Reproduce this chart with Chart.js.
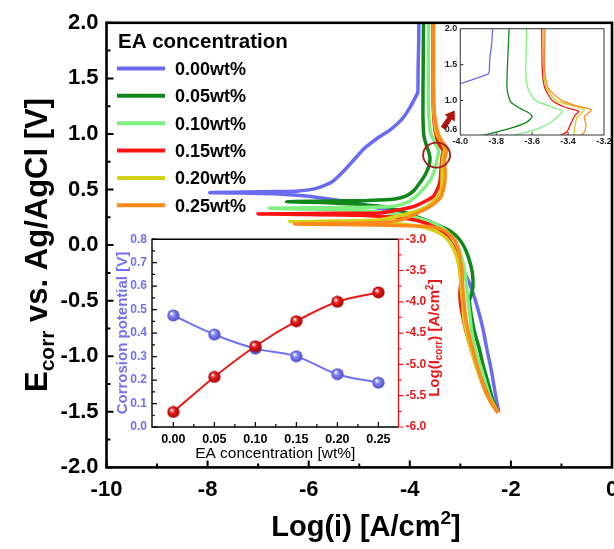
<!DOCTYPE html>
<html lang="en">
<head>
<meta charset="UTF-8">
<title>Tafel curves - EA concentration</title>
<style>
  html, body { margin: 0; padding: 0; background: #fff; overflow: hidden; }
  body { width: 614px; height: 549px; position: relative; }
  canvas { position: absolute; }
  #main { left: 0; top: 0; }
  #corr { left: 90px; top: 225px; }
  #zoom { left: 430px; top: 20px; }
</style>
<script src="https://cdn.jsdelivr.net/npm/chart.js"></script>
</head>
<body>
<canvas id="main" width="640" height="549"></canvas>
<canvas id="corr" width="370" height="240"></canvas>
<canvas id="zoom" width="200" height="135"></canvas>
<script>
// ---- data ----
const concLabels = ['0.00wt%', '0.05wt%', '0.10wt%', '0.15wt%', '0.20wt%', '0.25wt%'];

// each curve: cathodic branch from E=-1.5 up to Ecorr, then anodic branch up to 2.0
const logI000 = [-2.24, -2.30, -2.39, -2.47, -2.55, -2.65, -2.75, -2.85, -2.95, -3.05, -3.15, -3.30, -3.45, -3.60, -3.85, -4.20, -4.60, -4.87, -5.20, -5.53, -6.00, -6.60, -7.30, -7.96,
                 -7.30, -6.60, -6.20, -5.85, -5.55, -5.30, -5.10, -4.90, -4.60, -4.38, -4.15, -4.00, -3.85, -3.84, -3.835, -3.825, -3.82];
const e000 =    [-1.50, -1.36, -1.12, -0.95, -0.76, -0.58, -0.43, -0.31, -0.22, -0.10, -0.01, 0.09, 0.16, 0.21, 0.25, 0.29, 0.33, 0.36, 0.39, 0.41, 0.44, 0.46, 0.468, 0.472,
                 0.478, 0.482, 0.487, 0.51, 0.565, 0.67, 0.77, 0.87, 0.975, 1.04, 1.135, 1.236, 1.365, 1.385, 1.60, 1.80, 2.00];

const logI005 = [-2.26, -2.36, -2.45, -2.55, -2.62, -2.72, -2.78, -2.82, -2.78, -2.75, -2.76, -2.80, -2.88, -2.97, -3.10, -3.25, -3.42, -3.60, -3.87, -4.20, -4.53, -5.00, -5.52, -6.00, -6.44,
                 -6.00, -5.50, -4.90, -4.60, -4.30, -4.08, -3.92, -3.80, -3.70, -3.63, -3.60, -3.62, -3.667, -3.72, -3.74, -3.735, -3.728];
const e005 =    [-1.50, -1.39, -1.24, -1.08, -0.94, -0.78, -0.64, -0.50, -0.44, -0.37, -0.26, -0.17, -0.06, 0.02, 0.09, 0.14, 0.175, 0.21, 0.256, 0.31, 0.346, 0.365, 0.378, 0.386, 0.39,
                 0.394, 0.397, 0.40, 0.405, 0.415, 0.44, 0.49, 0.56, 0.63, 0.70, 0.775, 0.83, 0.89, 0.98, 1.17, 1.63, 2.00];

const logI010 = [-2.29, -2.42, -2.58, -2.70, -2.78, -2.82, -2.85, -2.88, -2.92, -2.98, -3.05, -3.18, -3.34, -3.55, -3.85, -4.30, -5.00, -6.00, -6.77,
                 -6.00, -5.20, -4.60, -4.30, -4.05, -3.88, -3.72, -3.63, -3.565, -3.50, -3.47, -3.43, -3.49, -3.584, -3.624, -3.635, -3.63];
const e010 =    [-1.48, -1.36, -1.12, -0.95, -0.76, -0.60, -0.49, -0.35, -0.22, -0.10, -0.01, 0.08, 0.15, 0.20, 0.245, 0.285, 0.31, 0.325, 0.331,
                 0.335, 0.338, 0.342, 0.352, 0.385, 0.436, 0.51, 0.56, 0.61, 0.69, 0.75, 0.85, 0.91, 1.005, 1.17, 1.40, 2.00];

const logI015 = [-2.26, -2.32, -2.45, -2.68, -2.88, -2.98, -3.01, -2.99, -3.01, -3.05, -3.15, -3.30, -3.50, -3.80, -4.30, -5.00, -6.00, -7.00,
                 -6.00, -5.00, -4.59, -3.94, -3.54, -3.41, -3.38, -3.36, -3.34, -3.42, -3.49, -3.529, -3.543, -3.547];
const e015 =    [-1.50, -1.45, -1.36, -1.09, -0.79, -0.58, -0.45, -0.31, -0.20, -0.10, 0.00, 0.09, 0.16, 0.215, 0.25, 0.268, 0.276, 0.28,
                 0.284, 0.287, 0.29, 0.345, 0.436, 0.556, 0.705, 0.80, 0.85, 0.91, 1.005, 1.17, 1.40, 2.00];

const logI020 = [-2.26, -2.35, -2.49, -2.75, -2.92, -2.95, -2.98, -3.00, -3.03, -3.10, -3.20, -3.35, -3.60, -4.00, -4.60, -5.50, -6.37,
                 -5.50, -4.60, -4.07, -3.67, -3.44, -3.37, -3.36, -3.35, -3.31, -3.38, -3.47, -3.52, -3.535, -3.538];
const e020 =    [-1.50, -1.43, -1.33, -1.00, -0.70, -0.55, -0.40, -0.30, -0.18, -0.07, 0.02, 0.09, 0.145, 0.18, 0.198, 0.205, 0.21,
                 0.216, 0.228, 0.28, 0.345, 0.436, 0.52, 0.66, 0.77, 0.87, 0.93, 1.005, 1.17, 1.40, 2.00];

const logI025 = [-2.26, -2.39, -2.52, -2.72, -2.88, -2.95, -2.98, -3.08, -3.20, -3.35, -3.60, -4.00, -5.00, -6.27,
                 -5.50, -4.60, -4.20, -3.94, -3.61, -3.45, -3.38, -3.31, -3.30, -3.31, -3.27, -3.36, -3.44, -3.51, -3.53, -3.53];
const e025 =    [-1.51, -1.42, -1.30, -1.00, -0.70, -0.40, -0.19, 0.016, 0.09, 0.14, 0.165, 0.175, 0.183, 0.19,
                 0.196, 0.203, 0.225, 0.27, 0.345, 0.40, 0.436, 0.556, 0.66, 0.77, 0.87, 0.93, 1.005, 1.17, 1.40, 2.00];

// lower-left inset
const eaConc = [0.00, 0.05, 0.10, 0.15, 0.20, 0.25];
const corrPotential = [0.475, 0.394, 0.334, 0.301, 0.225, 0.189];
const logIcorr = [-5.76, -5.20, -4.71, -4.31, -4.00, -3.85];

// tick values
const mainXTicks = [-10, -8, -6, -4, -2, 0];
const mainYTicks = [-2.0, -1.5, -1.0, -0.5, 0.0, 0.5, 1.0, 1.5, 2.0];
const zoomXTicks = [-4.0, -3.8, -3.6, -3.4, -3.2];
const zoomYTicks = [0.6, 1.0, 1.5, 2.0];
const corrXTicks = [0.00, 0.05, 0.10, 0.15, 0.20, 0.25];

// ---- styling ----
const FONT = 'Arial, "Liberation Sans", Helvetica, sans-serif';
Chart.defaults.font.family = FONT;
const curveColors = ['#6b6bf2', '#11861a', '#7ff07f', '#ff1414', '#d2d21a', '#ff8a1c'];
const BLUE = '#7272ee';
const RED = '#ea1a1a';

const curves = [[logI000, e000], [logI005, e005], [logI010, e010], [logI015, e015], [logI020, e020], [logI025, e025]];

function makeSets(width) {
    return curves.map(([xs, ys], i) => ({
        label: concLabels[i],
        data: xs.map((x, k) => ({ x: x, y: ys[k] })),
        showLine: true,
        borderColor: curveColors[i],
        backgroundColor: curveColors[i],
        borderWidth: width,
        pointRadius: 0,
        tension: 0.2,
        order: curves.length - i
    }));
}

function range(a, b, s) {
    const r = [];
    for (let v = a; v <= b + 1e-9; v += s) r.push(+v.toFixed(4));
    return r;
}

// short tick marks drawn along a chart area edge; len > 0 points inwards for left/bottom
function edgeTicks(ctx, chart, axisId, values, len, edge) {
    const s = chart.scales[axisId], a = chart.chartArea;
    ctx.beginPath();
    values.forEach(v => {
        const p = s.getPixelForValue(v);
        if (edge === 'left') { ctx.moveTo(a.left, p); ctx.lineTo(a.left + len, p); }
        if (edge === 'right') { ctx.moveTo(a.right, p); ctx.lineTo(a.right + len, p); }
        if (edge === 'bottom') { ctx.moveTo(p, a.bottom); ctx.lineTo(p, a.bottom - len); }
    });
    ctx.stroke();
}

// text made of pieces (for sub/superscripts), centered on cx, baseline at cy
function richText(ctx, parts, cx, cy, rot, color) {
    ctx.save();
    ctx.translate(cx, cy);
    ctx.rotate(rot);
    ctx.fillStyle = color;
    ctx.textAlign = 'left';
    ctx.textBaseline = 'alphabetic';
    let w = 0;
    parts.forEach(p => { ctx.font = p.font; w += ctx.measureText(p.t).width; });
    let x = -w / 2;
    parts.forEach(p => {
        ctx.font = p.font;
        ctx.fillText(p.t, x, p.dy || 0);
        x += ctx.measureText(p.t).width;
    });
    ctx.restore();
}

function ball(color, dark) {
    const c = document.createElement('canvas');
    c.width = 13; c.height = 13;
    const g = c.getContext('2d');
    const grad = g.createRadialGradient(4.6, 4.4, 0.4, 6.5, 6.5, 6.4);
    grad.addColorStop(0, '#ffffff');
    grad.addColorStop(0.35, color);
    grad.addColorStop(1, dark);
    g.fillStyle = grad;
    g.beginPath();
    g.arc(6.5, 6.5, 6.1, 0, Math.PI * 2);
    g.fill();
    return c;
}

// ---- main chart ----
const mainDecor = {
    id: 'mainDecor',
    afterDraw(chart) {
        const ctx = chart.ctx, a = chart.chartArea;
        const xs = chart.scales.x, ys = chart.scales.y;
        ctx.save();

        // highlight circle and arrow pointing to the zoomed inset
        ctx.strokeStyle = '#a51c1c';
        ctx.lineWidth = 1.8;
        ctx.beginPath();
        ctx.ellipse(xs.getPixelForValue(-3.47), ys.getPixelForValue(0.81), 13.5, 12.5, 0, 0, Math.PI * 2);
        ctx.stroke();

        const tx = xs.getPixelForValue(-3.344), ty = ys.getPixelForValue(1.051);
        const hx = xs.getPixelForValue(-3.112), hy = ys.getPixelForValue(1.21);
        const len = Math.hypot(hx - tx, hy - ty), ux = (hx - tx) / len, uy = (hy - ty) / len;
        const nx = -uy, ny = ux, bx = hx - ux * 9, by = hy - uy * 9;
        ctx.fillStyle = '#b0120f';
        ctx.beginPath();
        ctx.moveTo(tx + nx * 2.6, ty + ny * 2.6);
        ctx.lineTo(bx + nx * 2.6, by + ny * 2.6);
        ctx.lineTo(bx + nx * 6.2, by + ny * 6.2);
        ctx.lineTo(hx, hy);
        ctx.lineTo(bx - nx * 6.2, by - ny * 6.2);
        ctx.lineTo(bx - nx * 2.6, by - ny * 2.6);
        ctx.lineTo(tx - nx * 2.6, ty - ny * 2.6);
        ctx.closePath();
        ctx.fill();

        // frame and inward ticks
        ctx.strokeStyle = '#000';
        ctx.lineWidth = 2.6;
        ctx.strokeRect(a.left, a.top, a.right - a.left, a.bottom - a.top);
        ctx.lineWidth = 2;
        edgeTicks(ctx, chart, 'y', mainYTicks, 7, 'left');
        edgeTicks(ctx, chart, 'y', range(-1.75, 1.75, 0.5), 4, 'left');
        edgeTicks(ctx, chart, 'x', mainXTicks, 7, 'bottom');
        edgeTicks(ctx, chart, 'x', range(-9, -1, 2), 4, 'bottom');

        // axis titles
        richText(ctx, [
            { t: 'Log(i) [A/cm', font: `bold 29px ${FONT}` },
            { t: '2', font: `bold 19px ${FONT}`, dy: -12 },
            { t: ']', font: `bold 29px ${FONT}` }
        ], 366, 536, 0, '#000');
        richText(ctx, [
            { t: 'E', font: `bold 31px ${FONT}` },
            { t: 'corr', font: `bold 21px ${FONT}`, dy: 7 },
            { t: ' vs. Ag/AgCl [V]', font: `bold 31px ${FONT}` }
        ], 47, 245, -Math.PI / 2, '#000');

        // legend
        ctx.fillStyle = '#000';
        ctx.textAlign = 'left';
        ctx.textBaseline = 'middle';
        ctx.font = `bold 20.5px ${FONT}`;
        ctx.fillText('EA concentration', 118, 42);
        ctx.font = `bold 18px ${FONT}`;
        chart.data.datasets.forEach((ds, i) => {
            const y = 68.5 + i * 27.35;
            ctx.strokeStyle = ds.borderColor;
            ctx.lineWidth = 4;
            ctx.beginPath();
            ctx.moveTo(117, y);
            ctx.lineTo(165, y);
            ctx.stroke();
            ctx.fillText(ds.label, 175, y + 1.5);
        });
        ctx.restore();
    }
};

new Chart(document.getElementById('main'), {
    type: 'scatter',
    data: { datasets: makeSets(3.5) },
    options: {
        animation: false,
        responsive: false,
        events: [],
        layout: { padding: { top: 22.8, right: 28, left: 0, bottom: 0 } },
        plugins: { legend: { display: false }, tooltip: { enabled: false } },
        scales: {
            x: {
                min: -10, max: 0,
                afterBuildTicks: s => { s.ticks = mainXTicks.map(v => ({ value: v })); },
                ticks: { font: { size: 22, weight: 'bold' }, color: '#000', padding: 9, maxRotation: 0, autoSkip: false },
                grid: { display: false, drawTicks: false },
                border: { display: false },
                afterFit: s => { s.height = 549 - 467.4; }
            },
            y: {
                min: -2, max: 2,
                afterBuildTicks: s => { s.ticks = mainYTicks.map(v => ({ value: v })); },
                ticks: { font: { size: 22, weight: 'bold' }, color: '#000', padding: 8, autoSkip: false, callback: v => v.toFixed(1) },
                grid: { display: false, drawTicks: false },
                border: { display: false },
                afterFit: s => { s.width = 106.5; }
            }
        }
    },
    plugins: [mainDecor]
});

// ---- upper-right zoom inset ----
const zoomDecor = {
    id: 'zoomDecor',
    beforeDatasetsDraw(chart) {
        const ctx = chart.ctx, a = chart.chartArea;
        ctx.save();
        ctx.fillStyle = '#fff';
        ctx.fillRect(a.left, a.top, a.right - a.left, a.bottom - a.top);
        ctx.restore();
    },
    afterDraw(chart) {
        const ctx = chart.ctx, a = chart.chartArea;
        ctx.save();
        ctx.strokeStyle = '#444';
        ctx.lineWidth = 1.1;
        ctx.strokeRect(a.left, a.top, a.right - a.left, a.bottom - a.top);
        edgeTicks(ctx, chart, 'y', [1.0, 1.5], 3, 'left');
        edgeTicks(ctx, chart, 'x', [-3.8, -3.6, -3.4], 3, 'bottom');
        ctx.restore();
    }
};

new Chart(document.getElementById('zoom'), {
    type: 'scatter',
    data: { datasets: makeSets(1.3) },
    options: {
        animation: false,
        responsive: false,
        events: [],
        layout: { padding: { top: 8.7, right: 26, left: 0, bottom: 0 } },
        plugins: { legend: { display: false }, tooltip: { enabled: false } },
        scales: {
            x: {
                min: -4, max: -3.2,
                afterBuildTicks: s => { s.ticks = zoomXTicks.map(v => ({ value: v })); },
                ticks: { font: { size: 9, weight: 'bold' }, color: '#222', padding: 1, maxRotation: 0, autoSkip: false, callback: v => v.toFixed(1) },
                grid: { display: false, drawTicks: false },
                border: { display: false },
                afterFit: s => { s.height = 20; }
            },
            y: {
                min: 0.52, max: 2.0,
                afterBuildTicks: s => { s.ticks = zoomYTicks.map(v => ({ value: v })); },
                ticks: { font: { size: 9, weight: 'bold' }, color: '#222', padding: 3, autoSkip: false, callback: v => v.toFixed(1) },
                grid: { display: false, drawTicks: false },
                border: { display: false },
                afterFit: s => { s.width = 30.3; }
            }
        }
    },
    plugins: [zoomDecor]
});

// ---- lower-left inset: Ecorr and log(Icorr) vs EA concentration ----
const corrDecor = {
    id: 'corrDecor',
    beforeDatasetsDraw(chart) {
        const ctx = chart.ctx, a = chart.chartArea;
        ctx.save();
        ctx.fillStyle = '#fff';
        ctx.fillRect(a.left, a.top, a.right - a.left, a.bottom - a.top);
        ctx.restore();
    },
    afterDraw(chart) {
        const ctx = chart.ctx, a = chart.chartArea;
        ctx.save();
        ctx.lineWidth = 1.4;
        ctx.strokeStyle = '#000';
        ctx.beginPath();
        ctx.moveTo(a.right, a.top); ctx.lineTo(a.left, a.top);
        ctx.lineTo(a.left, a.bottom); ctx.lineTo(a.right, a.bottom);
        ctx.stroke();
        ctx.lineWidth = 1.2;
        edgeTicks(ctx, chart, 'y', range(0, 0.8, 0.1), 5, 'left');
        edgeTicks(ctx, chart, 'y', range(0.05, 0.75, 0.1), 3, 'left');
        edgeTicks(ctx, chart, 'x', corrXTicks, 5, 'bottom');
        edgeTicks(ctx, chart, 'x', range(0.025, 0.225, 0.05), 3, 'bottom');
        ctx.strokeStyle = RED;
        ctx.lineWidth = 1.4;
        ctx.beginPath();
        ctx.moveTo(a.right, a.top); ctx.lineTo(a.right, a.bottom);
        ctx.stroke();
        ctx.lineWidth = 1.2;
        edgeTicks(ctx, chart, 'y1', range(-6, -3, 0.5), 5, 'right');
        edgeTicks(ctx, chart, 'y1', range(-5.75, -3.25, 0.5), 3, 'right');

        const cy = (a.top + a.bottom) / 2;
        richText(ctx, [{ t: 'Corrosion potential [V]', font: `bold 15px ${FONT}` }], 37, cy, -Math.PI / 2, BLUE);
        richText(ctx, [
            { t: 'Log(I', font: `bold 15px ${FONT}` },
            { t: 'corr', font: `bold 10px ${FONT}`, dy: 3 },
            { t: ') [A/cm', font: `bold 15px ${FONT}` },
            { t: '2', font: `bold 10px ${FONT}`, dy: -6 },
            { t: ']', font: `bold 15px ${FONT}` }
        ], 349, cy + 5, -Math.PI / 2, RED);
        richText(ctx, [{ t: 'EA concentration [wt%]', font: `15.5px ${FONT}` }], (a.left + a.right) / 2, 232.5, 0, '#000');
        ctx.restore();
    }
};

new Chart(document.getElementById('corr'), {
    type: 'scatter',
    data: {
        datasets: [
            {
                label: 'Log(Icorr)',
                data: eaConc.map((c, i) => ({ x: c, y: logIcorr[i] })),
                yAxisID: 'y1',
                showLine: true,
                borderColor: RED,
                borderWidth: 2,
                tension: 0.35,
                pointStyle: ball('#ee2020', '#9a0000'),
                pointRadius: 6
            },
            {
                label: 'Corrosion potential',
                data: eaConc.map((c, i) => ({ x: c, y: corrPotential[i] })),
                yAxisID: 'y',
                showLine: true,
                borderColor: BLUE,
                borderWidth: 2,
                tension: 0.35,
                pointStyle: ball('#8585f2', '#4848c0'),
                pointRadius: 6
            }
        ]
    },
    options: {
        animation: false,
        responsive: false,
        events: [],
        layout: { padding: { top: 13.3, right: 0, left: 0, bottom: 0 } },
        plugins: { legend: { display: false }, tooltip: { enabled: false } },
        scales: {
            x: {
                min: -0.026, max: 0.2745,
                afterBuildTicks: s => { s.ticks = corrXTicks.map(v => ({ value: v })); },
                ticks: { font: { size: 12.5, weight: 'bold' }, color: '#000', padding: 5, maxRotation: 0, autoSkip: false, callback: v => v.toFixed(2) },
                grid: { display: false, drawTicks: false },
                border: { display: false },
                afterFit: s => { s.height = 38; }
            },
            y: {
                position: 'left',
                min: 0, max: 0.8,
                ticks: { stepSize: 0.1, font: { size: 12, weight: 'bold' }, color: BLUE, padding: 5, callback: v => v.toFixed(1) },
                grid: { display: false, drawTicks: false },
                border: { display: false },
                afterFit: s => { s.width = 62; }
            },
            y1: {
                position: 'right',
                min: -6, max: -3,
                ticks: { stepSize: 0.5, font: { size: 12, weight: 'bold' }, color: RED, padding: 7, callback: v => v.toFixed(1) },
                grid: { display: false, drawTicks: false },
                border: { display: false },
                afterFit: s => { s.width = 61.5; }
            }
        }
    },
    plugins: [corrDecor]
});
</script>
</body>
</html>
